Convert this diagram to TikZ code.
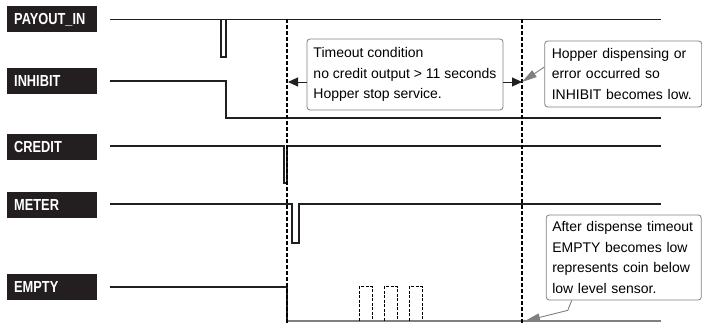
\documentclass[tikz,border=0pt]{standalone}
\usepackage{fontspec}
\setmainfont{Liberation Sans}
\newfontfamily\sigfont[FakeStretch=0.8]{Liberation Sans}
\usetikzlibrary{arrows.meta}
\definecolor{inkblack}{HTML}{231F20}
\definecolor{notegray}{HTML}{808080}

\begin{document}
\begin{tikzpicture}[scale=1.000000,x=1pt,y=1pt,
  siglabel/.style={fill=inkblack,text=white,anchor=west,minimum height=26pt,text width=76pt,inner xsep=7pt,inner ysep=0pt,align=left,font=\sigfont\bfseries\fontsize{16}{16}\selectfont},
  wave/.style={color=inkblack,line width=1.1pt},
  lowwave/.style={color=notegray,line width=1.1pt},
  cutline/.style={color=black,line width=2.4pt,dash pattern=on 4pt off 2pt},
  ghostpulse/.style={color=black,line width=1pt,dash pattern=on 3pt off 1.5pt},
  notebox/.style={draw=notegray,fill=white,rounded corners=3pt,line width=0.8pt,align=left,font=\fontsize{14}{20.5}\selectfont},
  spanarrow/.style={-{Triangle[length=10pt,width=9pt]},color=inkblack,line width=0.9pt},
  notearrow/.style={-{Triangle[length=15pt,width=8pt]},color=notegray,line width=0.9pt}]
\useasboundingbox (0.000000,0.000000) rectangle (702.000000,323.000000);
\filldraw[color=white] (0.000000,0.000000) rectangle (702.000000,323.000000);
% Drawing signal names
\node[siglabel] (payout) at (7.000000,303.500000) {PAYOUT\_IN};
\node[siglabel] (inhibit) at (7.000000,241.500000) {INHIBIT};
\node[siglabel] (credit) at (7.000000,176.000000) {CREDIT};
\node[siglabel] (meter) at (7.000000,118.000000) {METER};
\node[siglabel] (empty) at (7.000000,35.500000) {EMPTY};
% Done with names; drawing waves
% Wave 1: PAYOUT_IN
\draw[wave] (110.000000,303.500000) -- (661.000000,303.500000);
\draw[wave] (221.000000,303.500000) -- (221.000000,266.000000) -- (226.000000,266.000000) -- (226.000000,303.500000);
% Wave 2: INHIBIT
\draw[wave] (110.000000,242.000000) -- (226.000000,242.000000) -- (226.000000,205.000000) -- (661.000000,205.000000);
% Wave 3: CREDIT
\draw[wave] (110.000000,177.000000) -- (284.000000,177.000000) -- (284.000000,140.000000) -- (287.000000,140.000000) -- (287.000000,177.000000) -- (661.000000,177.000000);
% Wave 4: METER
\draw[wave] (110.000000,119.000000) -- (292.000000,119.000000) -- (292.000000,80.000000) -- (299.000000,80.000000) -- (299.000000,119.000000) -- (661.000000,119.000000);
% Wave 5: EMPTY
\draw[lowwave] (287.000000,2.000000) -- (661.000000,2.000000);
\draw[wave] (110.000000,36.000000) -- (287.000000,36.000000) -- (287.000000,2.000000);
\draw[ghostpulse] (359.000000,2.000000) -- (359.000000,36.000000) -- (372.000000,36.000000) -- (372.000000,2.000000);
\draw[ghostpulse] (384.000000,2.000000) -- (384.000000,36.000000) -- (397.000000,36.000000) -- (397.000000,2.000000);
\draw[ghostpulse] (409.000000,2.000000) -- (409.000000,36.000000) -- (422.000000,36.000000) -- (422.000000,2.000000);
% Done with waves; drawing cut lines
\draw[cutline] (287.000000,303.500000) -- (287.000000,0.000000);
\draw[cutline] (522.000000,303.500000) -- (522.000000,0.000000);
\coordinate (leftmark) at (288.000000,241.000000);
\coordinate (rightmark) at (522.000000,241.000000);
\coordinate (emptymark) at (525.000000,2.000000);
% Done with cut lines; drawing comments
\node[notebox,minimum width=196pt,minimum height=71pt] (timeout) at (405.000000,248.500000) {Timeout condition\\no credit output > 11 seconds\\Hopper stop service.};
\draw[spanarrow] (timeout.west |- leftmark) -- (leftmark);
\draw[spanarrow] (timeout.east |- rightmark) -- (rightmark);
\node[notebox,text width=143pt,inner xsep=7pt,minimum height=66pt] (hopper) at (623.250000,249.000000) {Hopper dispensing or\\error occurred so\\INHIBIT becomes low.};
\draw[notearrow] ([yshift=7pt]hopper.west) -- (rightmark);
\node[notebox,text width=143pt,inner xsep=6pt,minimum height=85pt] (emptynote) at (623.750000,65.500000) {After dispense timeout\\EMPTY becomes low\\represents coin below\\low level sensor.};
\draw[notearrow] ([xshift=-52pt]emptynote.south) -- ++(-4.000000,-10.000000) -- (emptymark);
% Done with comments
\end{tikzpicture}
\end{document}
